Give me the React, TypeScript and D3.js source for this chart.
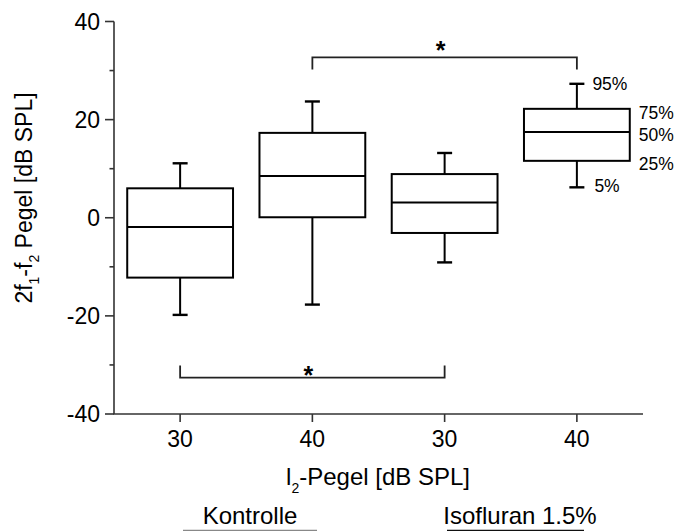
import React from "react";
import * as d3 from "d3";

const categories = ["30", "40", "30", "40"];
const groups = ["Kontrolle", "Isofluran 1.5%"];
const p5 = [-19.8, -17.7, -9.1, 6.2];
const q1 = [-12.2, 0.1, -3.1, 11.6];
const median = [-1.9, 8.5, 3.1, 17.5];
const q3 = [6.0, 17.3, 8.9, 22.2];
const p95 = [11.1, 23.7, 13.2, 27.3];
const yTicks = [-40, -20, 0, 20, 40];
const yMinorTicks = [-30, -10, 10, 30];
const percentLabels = ["95%", "75%", "50%", "25%", "5%"];
// significance brackets: [from index, to index, bracket level, tip level]
const brackets = [
  { from: 1, to: 3, level: 32.7, tip: 30.2 },
  { from: 0, to: 2, level: -32.6, tip: -30.1 },
];

const W = 678;
const H = 531;
const FONT = "'Liberation Sans', Arial, Helvetica, sans-serif";

export default function App() {
  const x = d3.scaleLinear().domain([-0.5, 3.5]).range([114, 643]);
  const y = d3.scaleLinear().domain([-40, 40]).range([414, 21.5]);
  const step = x(1) - x(0);
  const boxW = step * 0.8;
  const capW = 15;
  const axisColor = "#333";

  return (
    <svg
      width={W}
      height={H}
      style={{ position: "absolute", left: 0, top: 0, background: "#fff" }}
      fontFamily={FONT}
    >
      {/* axes */}
      <line x1={114} x2={114} y1={y(40)} y2={y(-40)} stroke={axisColor} strokeWidth={1.6} />
      <line x1={113.2} x2={643} y1={y(-40)} y2={y(-40)} stroke={axisColor} strokeWidth={1.6} />
      {yTicks.map((t) => (
        <g key={"yt" + t}>
          <line x1={105} x2={114} y1={y(t)} y2={y(t)} stroke={axisColor} strokeWidth={1.6} />
          <text x={100} y={y(t) + 8} textAnchor="end" fontSize={23}>
            {t}
          </text>
        </g>
      ))}
      {yMinorTicks.map((t) => (
        <line key={"ym" + t} x1={109.5} x2={114} y1={y(t)} y2={y(t)} stroke={axisColor} strokeWidth={1.6} />
      ))}
      {categories.map((c, i) => (
        <g key={"xt" + i}>
          <line x1={x(i)} x2={x(i)} y1={y(-40)} y2={y(-40) + 8} stroke={axisColor} strokeWidth={1.6} />
          <text x={x(i)} y={446.5} textAnchor="middle" fontSize={23}>
            {c}
          </text>
        </g>
      ))}

      {/* axis titles */}
      <text
        transform={`translate(32,198) rotate(-90)`}
        textAnchor="middle"
        fontSize={23}
      >
        2f
        <tspan fontSize={14} dy={7}>1</tspan>
        <tspan dy={-7}>-f</tspan>
        <tspan fontSize={14} dy={7}>2</tspan>
        <tspan dy={-7}> Pegel [dB SPL]</tspan>
      </text>
      <text x={378} y={485} textAnchor="middle" fontSize={24}>
        l<tspan fontSize={14} dy={8}>2</tspan>
        <tspan dy={-8}>-Pegel [dB SPL]</tspan>
      </text>

      {/* group labels */}
      <text x={250} y={524} textAnchor="middle" fontSize={24}>
        {groups[0]}
      </text>
      <line x1={183} x2={317} y1={530.5} y2={530.5} stroke="#888" strokeWidth={1.5} />
      <text x={520} y={524} textAnchor="middle" fontSize={24}>
        {groups[1]}
      </text>
      <line x1={447} x2={584} y1={530.5} y2={530.5} stroke="#111" strokeWidth={1.5} />

      {/* boxes */}
      {categories.map((c, i) => {
        const cx = x(i);
        return (
          <g key={"box" + i} stroke="#000" strokeWidth={2} fill="none">
            <line x1={cx} x2={cx} y1={y(q3[i])} y2={y(p95[i])} />
            <line x1={cx} x2={cx} y1={y(q1[i])} y2={y(p5[i])} />
            <line x1={cx - capW / 2} x2={cx + capW / 2} y1={y(p95[i])} y2={y(p95[i])} strokeWidth={2.4} />
            <line x1={cx - capW / 2} x2={cx + capW / 2} y1={y(p5[i])} y2={y(p5[i])} strokeWidth={2.4} />
            <rect
              x={cx - boxW / 2}
              y={y(q3[i])}
              width={boxW}
              height={y(q1[i]) - y(q3[i])}
              fill="#fff"
            />
            <line x1={cx - boxW / 2} x2={cx + boxW / 2} y1={y(median[i])} y2={y(median[i])} />
          </g>
        );
      })}

      {/* percentile labels for the last box */}
      {(() => {
        const i = 3;
        const cx = x(i);
        const vals = [p95[i], q3[i], median[i], q1[i], p5[i]];
        const xs = [cx + 15.5, cx + boxW / 2 + 9, cx + boxW / 2 + 9, cx + boxW / 2 + 9, cx + 17.5];
        const dys = [6.5, 10, 9.5, 9, 5];
        return percentLabels.map((l, k) => (
          <text key={"pl" + l} x={xs[k]} y={y(vals[k]) + dys[k]} fontSize={17.5}>
            {l}
          </text>
        ));
      })()}

      {/* significance brackets */}
      {brackets.map((b, k) => {
        const x1 = x(b.from);
        const x2 = x(b.to);
        const yl = y(b.level);
        const yt = y(b.tip);
        return (
          <g key={"br" + k}>
            <path
              d={`M${x1},${yt}V${yl}H${x2}V${yt}`}
              fill="none"
              stroke="#222"
              strokeWidth={1.8}
            />
            <text
              x={(x1 + x2) / 2 - 4}
              y={yl + (b.level > 0 ? 2 : 6)}
              textAnchor="middle"
              fontSize={25}
              fontWeight="bold"
            >
              *
            </text>
          </g>
        );
      })}
    </svg>
  );
}
